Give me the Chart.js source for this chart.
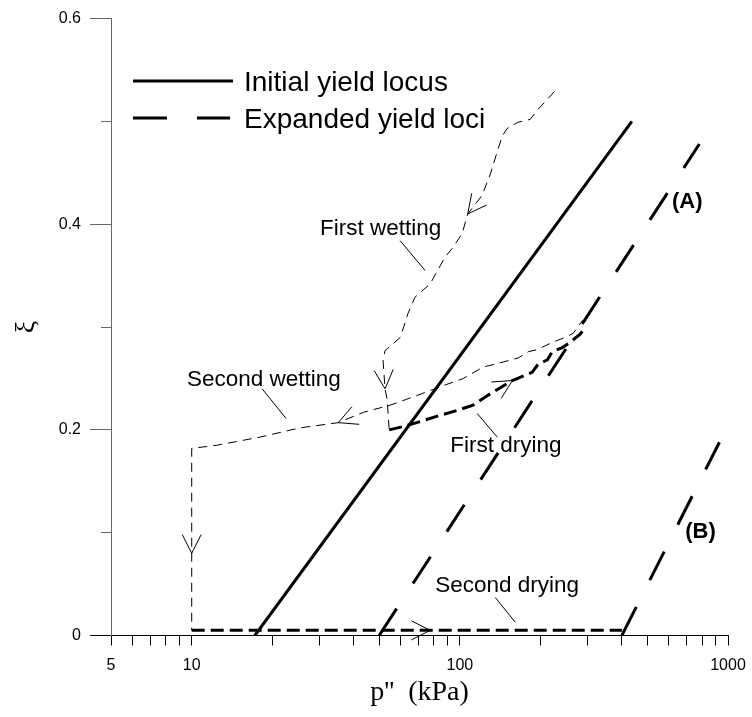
<!DOCTYPE html>
<html>
<head>
<meta charset="utf-8">
<title>Yield loci</title>
<script src="https://cdn.jsdelivr.net/npm/chart.js@4.4.0/dist/chart.umd.min.js"></script>
<style>
  html, body { margin: 0; padding: 0; background: #fff; }
  #wrap { width: 752px; height: 717px; }
</style>
</head>
<body>
<div id="wrap"><canvas id="grafico"></canvas></div>
<script>
// axes: p'' in kPa (log), xi
const xTicks = [5, 6, 7, 8, 9, 10, 20, 30, 40, 50, 60, 70, 80, 90, 100, 200, 300, 400, 500, 600, 700, 800, 900, 1000];
const xLabels = [5, 10, 100, 1000];
const yTicks = [0, 0.1, 0.2, 0.3, 0.4, 0.5, 0.6];
const yLabels = [0, 0.2, 0.4, 0.6];

// yield loci [p'', xi]
const initialLocus = [[17.2, 0], [438, 0.5]];
const lociA = [[50, 0], [782, 0.478]];
const lociB = [[402, 0], [929, 0.188]];

// stress paths
const firstWetting = [
  [225, 0.529], [213, 0.522], [196, 0.512], [183, 0.502], [164, 0.499], [150, 0.493],
  [144, 0.486], [138, 0.471], [130, 0.449], [121, 0.428], [107, 0.410], [102, 0.391],
  [94, 0.377], [88, 0.368], [77.5, 0.342], [68, 0.329], [64, 0.313], [60, 0.290],
  [52.6, 0.277], [51.7, 0.268], [52.6, 0.240], [53.6, 0.229], [54.5, 0.200]
];
const firstDrying = [
  [54.5, 0.200], [61, 0.203], [69, 0.207], [84, 0.214], [98, 0.219], [112, 0.224],
  [126, 0.233], [157, 0.248], [171, 0.252], [186, 0.256], [196, 0.264], [212, 0.268],
  [221, 0.276], [241, 0.280], [254, 0.284], [281, 0.293], [294, 0.300]
];
const secondWetting = [
  [296, 0.306], [286, 0.306], [265, 0.294], [247, 0.290], [221, 0.285], [194, 0.278],
  [180, 0.276], [165, 0.270], [145, 0.266], [122, 0.261], [103, 0.250], [86.6, 0.243],
  [66.9, 0.232], [54.9, 0.224], [43.6, 0.217], [35.2, 0.207], [25.4, 0.202], [18, 0.193],
  [12.4, 0.185], [10, 0.182], [10, 0.005]
];
const secondDrying = [[10, 0.005], [402, 0.005]];

// direction arrows: [from, tip]
const arrows = [
  [[121, 0.428], [107, 0.410]],
  [[51.7, 0.268], [52.6, 0.240]],
  [[43.6, 0.217], [35.2, 0.207]],
  [[10, 0.182], [10, 0.080]],
  [[126, 0.233], [157, 0.248]],
  [[10, 0.005], [77.5, 0.005]]
];

// leader lines from labels to paths
const leaders = [
  [[59.9, 0.384], [74.2, 0.355]],
  [[18.3, 0.240], [22.5, 0.211]],
  [[116, 0.216], [137.8, 0.193]],
  [[135.5, 0.037], [160.8, 0.013]]
];

const noteTexts = ['First wetting', 'Second wetting', 'First drying', 'Second drying', '(A)', '(B)'];
const noteAnchors = [[30.1, 0.390], [9.6, 0.243], [92, 0.178], [80.9, 0.042], [618, 0.416], [693, 0.0947]];

const legendTexts = ['Initial yield locus', 'Expanded yield loci'];

const SANS = "'Liberation Sans', Arial, sans-serif";
const SERIF = "'Liberation Serif', 'Times New Roman', serif";

const pts = a => a.map(([x, y]) => ({x: x, y: y}));

function line(data, width, dash) {
    return {
        data: pts(data),
        borderColor: '#000',
        borderWidth: width,
        borderDash: dash,
        pointRadius: 0,
        tension: 0,
        fill: false
    };
}

const datasets = [
    line(initialLocus, 3, []),
    line(lociA, 3, [32, 30]),
    line(lociB, 3, [32, 30]),
    line(firstWetting, 1, [9, 6]),
    line(firstDrying, 3, [13, 6]),
    line(secondWetting, 1, [9, 6]),
    line(secondDrying, 3, [13, 6])
];
leaders.forEach(l => datasets.push(line(l, 1, [])));

const annotations = {
    id: 'annotations',
    afterDatasetsDraw(chart) {
        const {ctx, chartArea, scales: {x, y}} = chart;
        ctx.save();
        ctx.strokeStyle = '#000';
        ctx.fillStyle = '#000';

        // open arrow heads
        ctx.lineWidth = 1;
        arrows.forEach(([from, tip]) => {
            const x0 = x.getPixelForValue(from[0]), y0 = y.getPixelForValue(from[1]);
            const x1 = x.getPixelForValue(tip[0]), y1 = y.getPixelForValue(tip[1]);
            const a = Math.atan2(y1 - y0, x1 - x0);
            const len = 21, spread = 0.47;
            ctx.beginPath();
            ctx.moveTo(x1 - len * Math.cos(a - spread), y1 - len * Math.sin(a - spread));
            ctx.lineTo(x1, y1);
            ctx.lineTo(x1 - len * Math.cos(a + spread), y1 - len * Math.sin(a + spread));
            ctx.stroke();
        });

        // path labels
        ctx.textBaseline = 'alphabetic';
        ctx.textAlign = 'left';
        noteTexts.forEach((t, i) => {
            const bold = t.charAt(0) === '(';
            ctx.font = (bold ? 'bold 22px ' : '22.5px ') + SANS;
            ctx.fillText(t, x.getPixelForValue(noteAnchors[i][0]), y.getPixelForValue(noteAnchors[i][1]));
        });

        // legend
        const lx = chartArea.left + 22;
        const ly = chartArea.top + 62.5;
        ctx.lineWidth = 3;
        ctx.beginPath();
        ctx.moveTo(lx, ly);
        ctx.lineTo(lx + 100, ly);
        ctx.stroke();
        ctx.setLineDash([34, 30]);
        ctx.beginPath();
        ctx.moveTo(lx, ly + 37);
        ctx.lineTo(lx + 97, ly + 37);
        ctx.stroke();
        ctx.setLineDash([]);
        ctx.font = '28px ' + SANS;
        ctx.fillText(legendTexts[0], lx + 111, ly + 10);
        ctx.fillText(legendTexts[1], lx + 111, ly + 47);
        ctx.restore();
    }
};

const config = {
    type: 'line',
    data: { datasets: datasets },
    plugins: [annotations],
    options: {
        responsive: true,
        maintainAspectRatio: false,
        animation: false,
        layout: {
            padding: { left: 0, right: 24, top: 17.5, bottom: 0 }
        },
        plugins: {
            legend: { display: false },
            tooltip: { enabled: false }
        },
        scales: {
            x: {
                type: 'logarithmic',
                min: 5,
                max: 1000,
                afterBuildTicks: s => { s.ticks = xTicks.map(v => ({value: v})); },
                afterFit: s => {
                    s.height = 81.5;
                    s.paddingLeft = 0;
                    s.paddingRight = 0;
                },
                ticks: {
                    autoSkip: false,
                    maxRotation: 0,
                    minRotation: 0,
                    color: '#000',
                    padding: 10,
                    font: { family: SANS, size: 16 },
                    callback: v => xLabels.includes(v) ? String(v) : ''
                },
                grid: {
                    drawOnChartArea: false,
                    tickLength: 10,
                    tickColor: '#000',
                    tickWidth: 1
                },
                border: { color: '#000', width: 1 },
                title: {
                    display: true,
                    text: "p''  (kPa)",
                    color: '#000',
                    font: { family: SERIF, size: 28 },
                    padding: { top: 0, bottom: 8 }
                }
            },
            y: {
                type: 'linear',
                min: 0,
                max: 0.6,
                afterBuildTicks: s => { s.ticks = yTicks.map(v => ({value: v})); },
                afterFit: s => { s.width = 111; },
                ticks: {
                    autoSkip: false,
                    color: '#000',
                    padding: 9,
                    font: { family: SANS, size: 16 },
                    callback: v => yLabels.includes(v) ? String(v) : ''
                },
                grid: {
                    drawOnChartArea: false,
                    tickLength: 21,
                    tickWidth: 1,
                    tickColor: c => (c.tick && c.tick.value === 0) ? '#000' : '#666',
                    tickBorderDash: c => (c.tick && !yLabels.includes(c.tick.value)) ? [0, 11, 10] : []
                },
                border: { color: '#666', width: 1 },
                title: {
                    display: true,
                    text: 'ξ',
                    color: '#000',
                    font: { family: SERIF, size: 28 },
                    padding: { top: 10, bottom: 0 }
                }
            }
        }
    }
};

new Chart(document.getElementById('grafico').getContext('2d'), config);
</script>
</body>
</html>
